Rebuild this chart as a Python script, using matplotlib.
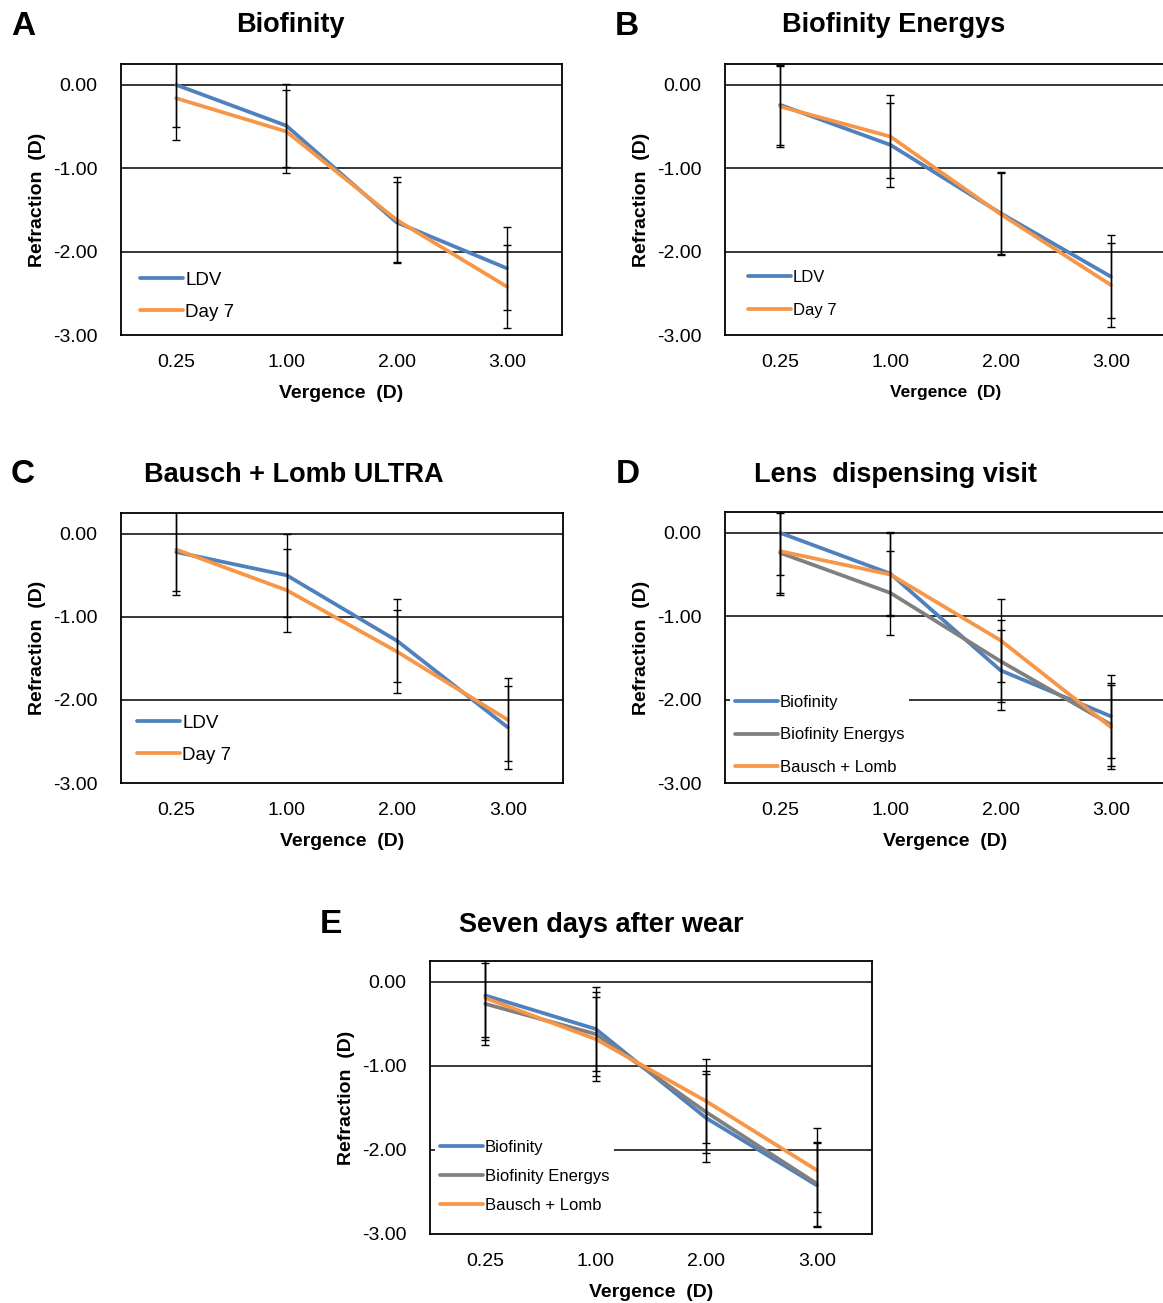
import matplotlib
matplotlib.use('Agg')
import matplotlib.pyplot as plt

plt.rcParams['font.family'] = ['Liberation Sans', 'DejaVu Sans']

# Vergence categories (D)
vergence = ['0.25', '1.00', '2.00', '3.00']

# Mean refraction (D) and SD, lens dispensing visit (LDV) and day 7
biof_ldv = [0.00, -0.49, -1.65, -2.20]
biof_ldv_sd = [0.51, 0.50, 0.48, 0.50]
biof_d7 = [-0.16, -0.56, -1.62, -2.42]
biof_d7_sd = [0.50, 0.50, 0.52, 0.50]

energ_ldv = [-0.24, -0.72, -1.54, -2.30]
energ_ldv_sd = [0.48, 0.50, 0.49, 0.50]
energ_d7 = [-0.26, -0.62, -1.55, -2.40]
energ_d7_sd = [0.49, 0.50, 0.49, 0.50]

bl_ldv = [-0.22, -0.50, -1.29, -2.33]
bl_ldv_sd = [0.52, 0.50, 0.50, 0.50]
bl_d7 = [-0.19, -0.68, -1.42, -2.24]
bl_d7_sd = [0.50, 0.50, 0.50, 0.50]

yticks = [0, -1, -2, -3]

BLUE = '#4f81bd'
ORANGE = '#f79646'
GRAY = '#808080'

W, H = 1163, 1303
fig = plt.figure(figsize=(W / 100, H / 100), dpi=100)


def px_axes(l, r, t, b):
    return fig.add_axes([l / W, 1 - b / H, (r - l) / W, (b - t) / H])


def draw_panel(ax, series, letter, title, lx, ly, tx, ty, leg_anchor,
               leg_size=12, leg_space=0.8, leg_frame=False, xlab_size=14):
    x = list(range(len(vergence)))
    for yv in yticks[:-1]:
        ax.axhline(yv, color='black', lw=1.1, zorder=1)
    for label, mean, sd, color in series:
        ax.plot(x, mean, color=color, lw=2.7, label=label, zorder=3,
                solid_capstyle='round')
    for label, mean, sd, color in series:
        ax.errorbar(x, mean, yerr=sd, fmt='none', ecolor='black',
                    elinewidth=1.0, capsize=3, capthick=1.0, zorder=4)
    ax.set_xlim(-0.5, len(vergence) - 0.5)
    ax.set_ylim(-3, 0.25)
    ax.set_xticks(x)
    ax.set_xticklabels(vergence)
    ax.set_yticks(yticks)
    ax.set_yticklabels(['%.2f' % v for v in yticks])
    ax.tick_params(length=0, labelsize=14)
    ax.tick_params(axis='x', pad=14)
    ax.tick_params(axis='y', pad=17)
    for s in ax.spines.values():
        s.set_color('black')
        s.set_linewidth(1.3)
    ax.set_xlabel('Vergence  (D)', fontsize=xlab_size, fontweight='bold',
                  labelpad=10)
    ax.set_ylabel('Refraction  (D)', fontsize=14, fontweight='bold',
                  labelpad=5)
    leg = ax.legend(loc='upper left', bbox_to_anchor=leg_anchor,
                    borderaxespad=0, borderpad=0.3, fontsize=leg_size,
                    handlelength=43 / (leg_size * 100 / 72),
                    handletextpad=0.1, labelspacing=leg_space,
                    frameon=leg_frame, fancybox=False)
    if leg_frame:
        leg.get_frame().set_facecolor('white')
        leg.get_frame().set_edgecolor('none')
        leg.get_frame().set_alpha(1)
    leg.set_zorder(5)
    fig.text(lx / W, 1 - ly / H, letter, fontsize=24, fontweight='bold',
             ha='center', va='baseline')
    fig.text(tx / W, 1 - ty / H, title, fontsize=19.5, fontweight='bold',
             ha='center', va='baseline')


axA = px_axes(121, 562, 64, 335)
draw_panel(axA, [('LDV', biof_ldv, biof_ldv_sd, BLUE),
                 ('Day 7', biof_d7, biof_d7_sd, ORANGE)],
           'A', 'Biofinity', 23, 35, 290, 32, (0.031, 0.255),
           leg_size=13.5, leg_space=0.8)

axB = px_axes(725, 1166, 64, 335)
draw_panel(axB, [('LDV', energ_ldv, energ_ldv_sd, BLUE),
                 ('Day 7', energ_d7, energ_d7_sd, ORANGE)],
           'B', 'Biofinity Energys', 627, 35, 894, 32, (0.041, 0.258),
           leg_size=12, leg_space=1.07, xlab_size=12.5)

axC = px_axes(121, 563, 513, 783)
draw_panel(axC, [('LDV', bl_ldv, bl_ldv_sd, BLUE),
                 ('Day 7', bl_d7, bl_d7_sd, ORANGE)],
           'C', 'Bausch + Lomb ULTRA', 23, 483, 294, 482, (0.024, 0.275),
           leg_size=13.5, leg_space=0.8)

axD = px_axes(725, 1166, 512, 783)
draw_panel(axD, [('Biofinity', biof_ldv, biof_ldv_sd, BLUE),
                 ('Biofinity Energys', energ_ldv, energ_ldv_sd, GRAY),
                 ('Bausch + Lomb', bl_ldv, bl_ldv_sd, ORANGE)],
           'D', 'Lens  dispensing visit', 628, 483, 896, 482, (0.011, 0.345),
           leg_size=12, leg_space=1.07, leg_frame=True)

axE = px_axes(430, 872, 961, 1234)
draw_panel(axE, [('Biofinity', biof_d7, biof_d7_sd, BLUE),
                 ('Biofinity Energys', energ_d7, energ_d7_sd, GRAY),
                 ('Bausch + Lomb', bl_d7, bl_d7_sd, ORANGE)],
           'E', 'Seven days after wear', 331, 933, 601, 932, (0.011, 0.362),
           leg_size=12, leg_space=0.83, leg_frame=True)

fig.savefig('out.png', dpi=100)
